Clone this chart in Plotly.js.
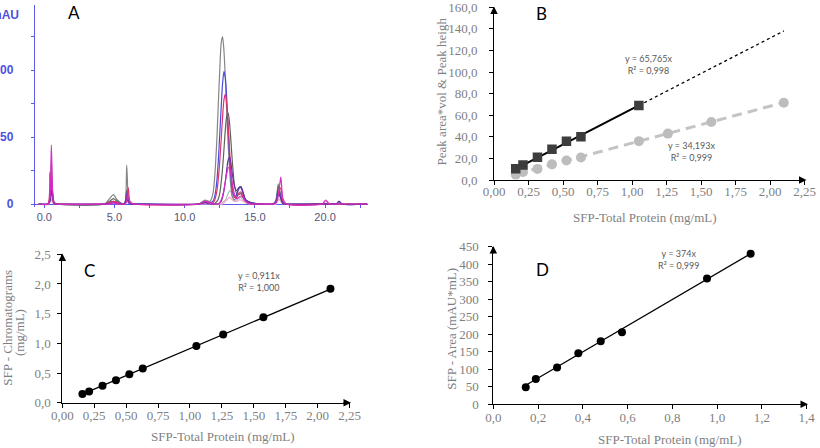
<!DOCTYPE html>
<html>
<head>
<meta charset="utf-8">
<script src="https://cdn.plot.ly/plotly-3.0.1.min.js"></script>
<style>
  html, body { margin: 0; padding: 0; background: #ffffff; }
  #fig { width: 820px; height: 448px; }
</style>
</head>
<body>
<div id="fig"></div>
<script>
// ---------- Panel A: overlaid SEC-HPLC chromatograms ----------
// retention time (min)
const retentionTime = [
  -0.4,
  0.25, 0.4, 0.5, 0.6, 0.7, 0.9,
  4.3, 4.65, 4.92, 5.2, 5.6, 5.75, 5.87, 5.98, 6.1, 6.4,
  11.0, 11.45, 11.8, 12.0, 12.1, 12.2, 12.3, 12.4, 12.5, 12.6, 12.7, 12.8, 12.9,
  13.0, 13.1, 13.2, 13.3, 13.4, 13.55, 13.7, 13.85, 14.0, 14.15, 14.35, 14.7, 15.3,
  16.3, 16.5, 16.67, 16.85, 17.0, 17.25,
  19.8, 20.05, 20.3, 20.8, 21.0, 21.2, 23.0
];
// absorbance (mAU) of each injection
const mauGrey = [
  0,
  0, 4, 33, 6, 1, 0,
  0, 4, 7, 3, 0, 1, 29, 5, 0, 0,
  0, 3, 2, 7, 15, 30, 50, 76, 100, 120, 125, 114, 93,
  68, 44, 25, 12, 5, 3, 6, 11, 12, 8, 3, 1, 0,
  0, 3, 15, 5, 1, 0,
  0, 0, 0, 0, 0, 0, 0
];
const mauBlue = [
  0,
  0, 3, 20, 6, 1, 0,
  0, 1, 2, 1, 0, 1, 8, 2, 0, 0,
  0, 2, 1, 2, 4, 9, 18, 33, 52, 72, 90, 99, 94,
  78, 56, 35, 19, 9, 5, 7, 12, 13, 9, 3, 1, 0,
  0, 2, 10, 5, 1, 0,
  0, 0, 0, 0, 2, 0, 0
];
const mauRed = [
  0,
  0, 24, 12, 3, 0, 0,
  0, 1, 2, 1, 0, 0, 4, 12, 2, 0,
  0, 1, 1, 1, 2, 5, 10, 19, 32, 48, 65, 78, 82,
  74, 58, 40, 24, 12, 5, 5, 8, 9, 6, 2, 0, 0,
  0, 1, 8, 12, 2, 0,
  0, 0, 0, 0, 0, 0, 0
];
const mauDark = [
  0,
  0, 3, 15, 8, 1, 0,
  0, 2, 4, 2, 0, 1, 10, 3, 0, 0,
  0, 2, 1, 0, 0, 1, 2, 4, 8, 16, 27, 41, 56,
  66, 68, 60, 46, 31, 14, 8, 7, 8, 5, 2, 0, 0,
  0, 2, 13, 6, 1, 0,
  0, 0, 0, 0, 0, 0, 0
];
const mauPurple = [
  0,
  0, 2, 10, 4, 0, 0,
  0, 0, 1, 0, 0, 0, 4, 2, 0, 0,
  0, 1, 0, 0, 0, 0, 0, 0, 1, 2, 5, 10, 17,
  26, 33, 35, 30, 22, 13, 10, 12, 13, 9, 3, 1, 0,
  0, 1, 8, 4, 0, 0,
  0, 0, 0, 0, 2, 0, 0
];
const mauMagenta = [
  0,
  0, 5, 44, 8, 1, 0,
  0, 0, 1, 0, 0, 0, 2, 6, 1, 0,
  0, 2, 1, 0, 0, 0, 0, 0, 1, 3, 6, 11, 17,
  23, 27, 27, 22, 15, 7, 4, 5, 6, 5, 2, 0, 0,
  0, 1, 6, 20, 4, 0,
  0, 3, 0, 0, 0, 0, 0
];
const mauLightGrey = [
  0,
  0, 1, 4, 1, 0, 0,
  0, 1, 2, 1, 0, 0, 2, 1, 0, 0,
  0, 1, 0, 0, 0, 0, 0, 0, 0, 0, 1, 2, 3,
  5, 8, 10, 9, 6, 3, 3, 4, 5, 3, 1, 0, 0,
  0, 0, 4, 2, 0, 0,
  0, 0, 0, 0, 0, 0, 0
];
const mauPink = [
  0,
  0, 3, 3, 1, 0, 0,
  0, 0, 1, 0, 0, 0, 1, 2, 0, 0,
  0, 0, 0, 0, 0, 0, 0, 0, 0, 0, 0, 1, 2,
  3, 4, 5, 4, 3, 2, 2, 3, 3, 2, 1, 0, 0,
  0, 0, 3, 4, 1, 0,
  0, 2, 0, 0, 0, 0, 0
];
const timeTicks = [0, 2.5, 5, 7.5, 10, 12.5, 15, 17.5, 20, 22.5];
const timeTickText = ['0.0', '', '5.0', '', '10.0', '', '15.0', '', '20.0', ''];
const mauTicks = [0, 25, 50, 75, 100, 125];
const mauTickText = ['0', '', '50', '', '100', ''];

// ---------- Panels B, C, D: calibration of SFP ----------
const totalProtein = [0.1575, 0.21, 0.315, 0.42, 0.525, 0.63, 1.05, 1.26, 1.575, 2.10];
const peakAreaVol = [10.5, 13.9, 21.0, 28.6, 36.0, 40.0, 69.0];
const peakHeight = [5.0, 7.5, 10.3, 14.5, 18.0, 20.8, 36.0, 43.0, 53.8, 71.6];
const slopeAreaVol = 65.765;
const slopeHeight = 34.193;

const chromConc = [0.145, 0.19, 0.285, 0.38, 0.48, 0.575, 0.955, 1.15, 1.44, 1.92];
const slopeChrom = 0.911;

const sfpArea = [49, 72, 105, 146, 180, 206, 359, 430];
const slopeArea = 374;

const eqAreaVol = 'y = 65,765x<br>R² = 0,998';
const eqHeight = 'y = 34,193x<br>R² = 0,999';
const eqChrom = 'y = 0,911x<br>R² = 1,000';
const eqArea = 'y = 374x<br>R² = 0,999';

// ---------- helpers ----------
const W = 820, H = 448;
const px = v => v / W;
const py = v => 1 - v / H;
const fitLine = (slope, x0, x1) => ({ x: [x0, x1], y: [slope * x0, slope * x1] });

const serif = 'Liberation Serif, Times New Roman, serif';
const greyText = '#7f7f7f';
const blueAxis = '#5b5be8';

const traces = [];

// chromatograms, lighter injections first
const chromSeries = [
  [mauLightGrey, '#b9b9b9'],
  [mauPink, '#f2a3d4'],
  [mauGrey, '#858585'],
  [mauDark, '#5c6658'],
  [mauBlue, '#4a4ade'],
  [mauRed, '#e2306a'],
  [mauPurple, '#6a2ea4'],
  [mauMagenta, '#d82cc6']
];
chromSeries.forEach(([vals, col]) => {
  traces.push({
    x: retentionTime, y: vals, xaxis: 'x', yaxis: 'y',
    mode: 'lines', line: { color: col, width: 1.2, shape: 'spline', smoothing: 0.7 },
    hoverinfo: 'skip'
  });
});

// B: trend lines and data
const xN = totalProtein.length;
const areaFitSolid = fitLine(slopeAreaVol, totalProtein[0], totalProtein[peakAreaVol.length - 1]);
const areaFitExt = fitLine(slopeAreaVol, totalProtein[peakAreaVol.length - 1], totalProtein[xN - 1]);
const heightFit = fitLine(slopeHeight, totalProtein[0], totalProtein[xN - 1]);

traces.push({ x: heightFit.x, y: heightFit.y, xaxis: 'x2', yaxis: 'y2', mode: 'lines',
  line: { color: '#c4c4c4', width: 3, dash: '10px,6px' }, hoverinfo: 'skip' });
traces.push({ x: totalProtein, y: peakHeight, xaxis: 'x2', yaxis: 'y2', mode: 'markers',
  marker: { symbol: 'circle', size: 10, color: '#bdbdbd' }, hoverinfo: 'skip' });
traces.push({ x: areaFitExt.x, y: areaFitExt.y, xaxis: 'x2', yaxis: 'y2', mode: 'lines',
  line: { color: '#000000', width: 1.3, dash: 'dot' }, hoverinfo: 'skip' });
traces.push({ x: areaFitSolid.x, y: areaFitSolid.y, xaxis: 'x2', yaxis: 'y2', mode: 'lines',
  line: { color: '#000000', width: 2 }, hoverinfo: 'skip' });
traces.push({ x: totalProtein.slice(0, peakAreaVol.length), y: peakAreaVol, xaxis: 'x2', yaxis: 'y2',
  mode: 'markers', marker: { symbol: 'square', size: 9.5, color: '#3d3d3d' }, hoverinfo: 'skip' });

// C
const chromFit = fitLine(slopeChrom, totalProtein[0], totalProtein[xN - 1]);
traces.push({ x: chromFit.x, y: chromFit.y, xaxis: 'x3', yaxis: 'y3', mode: 'lines',
  line: { color: '#000000', width: 1.3 }, hoverinfo: 'skip' });
traces.push({ x: totalProtein, y: chromConc, xaxis: 'x3', yaxis: 'y3', mode: 'markers',
  marker: { size: 8, color: '#000000' }, hoverinfo: 'skip' });

// D
const dX = chromConc.slice(0, sfpArea.length);
const areaFit = fitLine(slopeArea, dX[0], dX[dX.length - 1]);
traces.push({ x: areaFit.x, y: areaFit.y, xaxis: 'x4', yaxis: 'y4', mode: 'lines',
  line: { color: '#000000', width: 1.3 }, hoverinfo: 'skip' });
traces.push({ x: dX, y: sfpArea, xaxis: 'x4', yaxis: 'y4', mode: 'markers',
  marker: { size: 8, color: '#000000' }, hoverinfo: 'skip' });

// ---------- axes ----------
const calAxis = (extra) => Object.assign({
  showline: true, linecolor: '#000000', linewidth: 1,
  ticks: 'outside', ticklen: 4, tickcolor: '#000000', tickwidth: 1,
  tickfont: { family: serif, size: 13, color: greyText },
  ticklabeloverflow: 'allow',
  showgrid: false, zeroline: false, fixedrange: true
}, extra);

const layout = {
  width: W, height: H,
  margin: { l: 0, r: 0, t: 0, b: 0 },
  paper_bgcolor: '#ffffff', plot_bgcolor: 'rgba(0,0,0,0)',
  showlegend: false,
  separators: ', ',
  xaxis: {
    domain: [px(35), px(368)], range: [-0.663, 23.06],
    anchor: 'free', position: py(204),
    showline: true, linecolor: blueAxis, linewidth: 1.2, layer: 'below traces',
    tickmode: 'array', tickvals: timeTicks, ticktext: timeTickText,
    ticks: 'outside', ticklen: 3, tickcolor: blueAxis,
    tickfont: { family: 'Liberation Sans, Arial, sans-serif', size: 11, color: '#55557a' },
    showgrid: false, zeroline: false
  },
  yaxis: {
    domain: [py(206.7), py(5)], range: [-2, 148.5], anchor: 'x',
    showline: true, linecolor: blueAxis, linewidth: 1.2,
    tickmode: 'array', tickvals: mauTicks, ticktext: mauTickText,
    ticks: 'outside', ticklen: 3, tickcolor: blueAxis,
    ticklabelstandoff: 15, ticklabeloverflow: 'allow',
    tickfont: { family: 'Liberation Sans, Arial, sans-serif', size: 12, color: '#5050e0', weight: 'bold' },
    showgrid: false, zeroline: false
  },
  xaxis2: calAxis({ domain: [px(494), px(804.5)], range: [0, 2.25], anchor: 'y2', dtick: 0.25, tick0: 0, tickformat: '.2f', ticklabelstandoff: -5 }),
  yaxis2: calAxis({ domain: [py(180), py(7.3)], range: [0, 160], anchor: 'x2', dtick: 20, tick0: 0, tickformat: '.1f', ticklabelstandoff: 9 }),
  xaxis3: calAxis({ domain: [px(62.3), px(349.6)], range: [0, 2.25], anchor: 'y3', dtick: 0.25, tick0: 0, tickformat: '.2f', ticklabelstandoff: -3 }),
  yaxis3: calAxis({ domain: [py(402.7), py(254.3)], range: [0, 2.5], anchor: 'x3', dtick: 0.5, tick0: 0, tickformat: '.1f', ticklabelstandoff: 4 }),
  xaxis4: calAxis({ domain: [px(493.3), px(806.6)], range: [0, 1.4], anchor: 'y4', dtick: 0.2, tick0: 0, tickformat: '.1f', ticklabelstandoff: -3 }),
  yaxis4: calAxis({ domain: [py(404.3), py(246.7)], range: [0, 450], anchor: 'x4', dtick: 50, tick0: 0, tickformat: 'd', ticklabelstandoff: 7 }),
  annotations: []
};

const ann = layout.annotations;
const txt = (x, y, text, font, extra) => ann.push(Object.assign({
  xref: 'paper', yref: 'paper', x: px(x), y: py(y), text: text, showarrow: false,
  xanchor: 'center', yanchor: 'middle', font: font
}, extra || {}));
const arrow = (x, y, dx, dy) => ann.push({
  xref: 'paper', yref: 'paper', x: px(x), y: py(y), ax: dx, ay: dy, text: '',
  showarrow: true, arrowhead: 2, arrowsize: 1.5, arrowwidth: 1, arrowcolor: '#000000', standoff: 0
});

const letterFont = { family: 'Lato, Liberation Sans, sans-serif', size: 17, color: '#000000' };
const eqFont = { family: 'Lato, Liberation Sans, sans-serif', size: 9, color: '#595959' };
const titleFont = { family: serif, size: 13, color: greyText };

// panel letters
txt(74, 12.5, 'A', letterFont);
txt(541.5, 13.5, 'B', letterFont);
txt(89.5, 270, 'C', letterFont);
txt(542.5, 269.5, 'D', letterFont);

// unit of the chromatogram axis
txt(21, 15, 'mAU', { family: 'Liberation Sans, Arial, sans-serif', size: 12, color: '#5050e0', weight: 'bold' }, { xanchor: 'right' });

// fitted equations
txt(648, 64.5, eqAreaVol, eqFont);
txt(691, 151, eqHeight, eqFont);
txt(259, 281, eqChrom, eqFont);
txt(678, 259.5, eqArea, eqFont);

// axis titles
txt(645, 218, 'SFP-Total Protein (mg/mL)', titleFont);
txt(441.7, 91.7, 'Peak area*vol &amp; Peak heigh', titleFont, { textangle: -90 });
txt(222.7, 436.7, 'SFP-Total Protein (mg/mL)', titleFont);
txt(6.7, 328, 'SFP - Chromatograms', titleFont, { textangle: -90 });
txt(19, 333, '(mg/mL)', titleFont, { textangle: -90 });
txt(670, 439, 'SFP-Total Protein (mg/mL)', titleFont);
txt(450.8, 329, 'SFP - Area (mAU*mL)', titleFont, { textangle: -90 });

// axis end arrows
arrow(806.5, 180, -9, 0);
arrow(494, 6.5, 0, 9);
arrow(351, 402.7, -9, 0);
arrow(62.3, 253.5, 0, 9);
arrow(808, 404.3, -9, 0);
arrow(493.3, 246, 0, 9);

Plotly.newPlot('fig', traces, layout, { staticPlot: true, displayModeBar: false });
</script>
</body>
</html>
